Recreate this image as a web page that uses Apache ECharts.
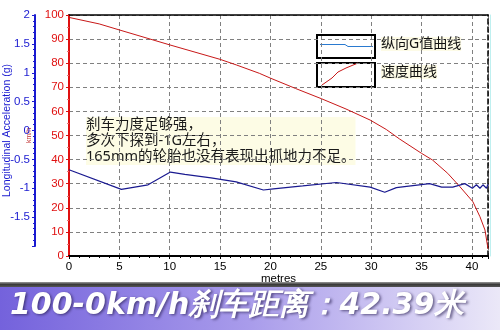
<!DOCTYPE html>
<html><head><meta charset="utf-8">
<script src="https://cdn.jsdelivr.net/npm/echarts@6/dist/echarts.min.js"></script>
<style>html,body{margin:0;padding:0;background:#fff}#c{width:500px;height:330px}</style>
</head><body><div id="c"></div>
<script>
// distance (m) vs speed (km/h)
const speedDist = [0,3,5,10,15,16.6,18.9,20,22.5,25.1,27.5,29.9,31.5,32.8,35,36.1,37.6,38.8,40.1,40.8,41.3,41.6];
const speedVals = [99.0,96.3,93.8,87.6,81.6,79.3,75.8,73.8,69.5,65.2,61,56.4,52.5,48.6,42.6,39.8,34.3,28.8,22.5,16.3,10.8,3];
// distance (m) vs longitudinal acceleration (g)
const gDist = [0,5.2,7.85,10.07,11.5,14.1,16.6,19.3,20.3,23.2,26.55,29.9,31.35,32.5,35.8,37,38.1,39.3,40.05,40.45,40.8,41.1,41.45,41.6];
const gVals = [-0.68,-1.02,-0.94,-0.72,-0.76,-0.82,-0.89,-1.03,-1.01,-0.96,-0.90,-0.98,-1.07,-0.99,-0.92,-0.98,-0.98,-0.92,-1.0,-0.94,-1.0,-0.94,-1.0,-0.93];
const legendNames = ['纵向G值曲线','速度曲线'];
const noteText = '刹车力度足够强，\n多次下探到-1G左右，\n165mm的轮胎也没有表现出抓地力不足。';
const bannerText = '100-0km/h刹车距离：42.39米';
const xTitle = 'metres';
const gTitle = 'Longitudinal Acceleration (g)';
const vTitle = 'km/h';

const chart = echarts.init(document.getElementById('c'));
const font = 'Liberation Sans, Arial, sans-serif';
const cjk = 'Noto Sans, Noto Sans CJK SC, sans-serif';
const red = '#e01010', blue = '#1a1ad0';
chart.setOption({
  animation:false,
  backgroundColor:'#fff',
  grid:[
    {left:69,right:12,top:15,bottom:74,outerBoundsMode:'none'},
    {left:69,right:12,top:15,bottom:84,outerBoundsMode:'none'}
  ],
  xAxis:[
    {type:'value',gridIndex:0,min:0,max:41.6,interval:5,
     name:xTitle,nameLocation:'middle',nameGap:17,nameMoveOverlap:false,nameTextStyle:{color:'#000',fontSize:11.5,fontFamily:font},
     axisLine:{onZero:false,lineStyle:{color:'#000',width:2}},
     axisTick:{show:true,length:3,lineStyle:{color:'#000'}},
     minorTick:{show:true,splitNumber:5,length:2,lineStyle:{color:'#000'}},
     axisLabel:{color:'#000',fontSize:11.5,fontFamily:font,margin:5,showMaxLabel:false},
     splitLine:{show:true,lineStyle:{color:'#808080',type:[4,3],width:1}}},
    {type:'value',gridIndex:1,min:0,max:41.6,show:false,axisLine:{onZero:false}},
    {type:'value',gridIndex:0,position:'top',min:0,max:41.6,
     axisLine:{show:true,onZero:false,lineStyle:{color:'#000',width:1.5}},axisTick:{show:false},axisLabel:{show:false},splitLine:{show:false}}
  ],
  yAxis:[
    {type:'value',gridIndex:0,min:0,max:100,interval:10,position:'left',
     name:vTitle,nameLocation:'middle',nameGap:36,nameRotate:90,nameMoveOverlap:false,nameTextStyle:{color:'#c03030',fontSize:7,fontFamily:font},
     axisLine:{show:true,onZero:false,lineStyle:{color:red,width:2}},
     axisTick:{show:true,length:3,lineStyle:{color:red}},
     minorTick:{show:true,splitNumber:2,length:2,lineStyle:{color:'#e87070'}},
     axisLabel:{color:red,fontSize:11.5,fontFamily:font,margin:5},
     splitLine:{show:true,lineStyle:{color:'#808080',type:[4,3],width:1}}},
    {type:'value',gridIndex:1,min:-2,max:2,interval:0.5,position:'left',offset:34,
     name:gTitle,nameLocation:'middle',nameGap:22,nameRotate:90,nameMoveOverlap:false,nameTextStyle:{color:blue,fontSize:10.5,fontFamily:font},
     axisLine:{show:true,onZero:false,lineStyle:{color:blue,width:2}},
     axisTick:{show:true,length:3,lineStyle:{color:blue}},
     minorTick:{show:true,splitNumber:5,length:2,lineStyle:{color:blue}},
     axisLabel:{color:blue,fontSize:11.5,fontFamily:font,margin:5,showMinLabel:false},
     splitLine:{show:false}},
    {type:'value',gridIndex:0,min:0,max:100,position:'right',
     axisLine:{show:true,onZero:false,lineStyle:{color:'#000',width:1.5,type:[5,3]}},axisTick:{show:false},axisLabel:{show:false},splitLine:{show:false}},
    {type:'value',gridIndex:0,min:0,max:100,position:'right',offset:2,
     axisLine:{show:true,onZero:false,lineStyle:{color:'#bff0f0',width:1}},axisTick:{show:false},axisLabel:{show:false},splitLine:{show:false}}
  ],
  series:[
    {type:'line',xAxisIndex:0,yAxisIndex:0,showSymbol:false,symbol:'none',
     lineStyle:{color:'#c81818',width:1},data:speedDist.map((d,i)=>[d,speedVals[i]])},
    {type:'line',xAxisIndex:1,yAxisIndex:1,showSymbol:false,symbol:'none',
     lineStyle:{color:'#1a1a90',width:1.2},data:gDist.map((d,i)=>[d,gVals[i]])}
  ],
  graphic:[
    {type:'rect',shape:{x:317,y:35,width:58,height:23},style:{fill:'#fff',stroke:'#000',lineWidth:2}},
    {type:'polyline',shape:{points:[[320,44.5],[345,44.5],[348,46.5],[373,46.5]]},style:{stroke:'#2a7ad0',lineWidth:1,fill:null}},
    {type:'rect',shape:{x:317,y:63,width:58,height:24},style:{fill:'rgba(255,255,255,0)',stroke:'#000',lineWidth:2}},
    {type:'polyline',shape:{points:[[322,85],[332,78],[338,72],[346,68],[358,63]]},style:{stroke:'#c81818',lineWidth:1,fill:null}},
    {type:'text',left:381,top:37,style:{text:legendNames[0],fontSize:14,fontFamily:cjk,fill:'#111',backgroundColor:'#fdfbe6'}},
    {type:'text',left:381,top:65,style:{text:legendNames[1],fontSize:14,fontFamily:cjk,fill:'#111',backgroundColor:'#fdfbe6'}},
    {type:'text',left:86,top:117,style:{text:noteText,fontSize:14.5,lineHeight:16,fontFamily:cjk,fill:'#1a1a1a',backgroundColor:'rgba(253,251,225,0.85)'}},
    {type:'rect',shape:{x:0,y:282,width:500,height:5},style:{fill:new echarts.graphic.LinearGradient(0,0,0,1,[{offset:0,color:'#9a9a9a'},{offset:0.5,color:'#3a3a3a'},{offset:1,color:'#555'}])}},
    {type:'rect',shape:{x:0,y:287,width:500,height:43},style:{fill:new echarts.graphic.LinearGradient(0,0,1,0,[{offset:0,color:'#7462dc'},{offset:0.5,color:'#a99ceb'},{offset:1,color:'#ebe8f8'}])}},
    {type:'text',left:10,top:291,style:{text:bannerText,fontSize:30,fontWeight:'bold',fontStyle:'italic',fontFamily:'DejaVu Sans',fill:'#fff',
      textShadowColor:'rgba(40,30,80,0.7)',textShadowBlur:3,textShadowOffsetX:1.5,textShadowOffsetY:1.5}}
  ]
});
</script></body></html>
